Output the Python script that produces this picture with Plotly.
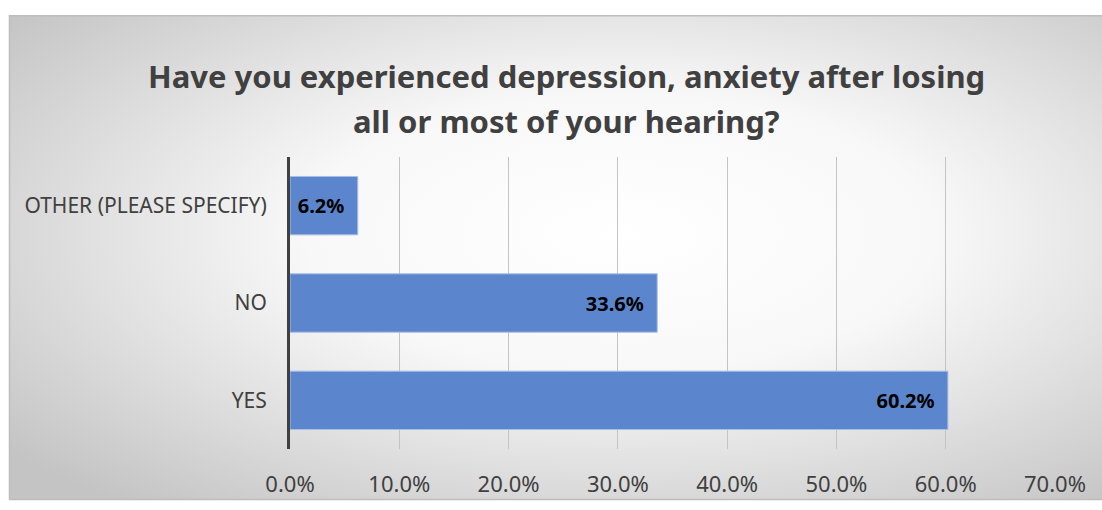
import base64
import plotly.graph_objects as go

categories = ["YES", "NO", "OTHER (PLEASE SPECIFY)"]
percents = [60.2, 33.6, 6.2]
x_ticks = [0, 10, 20, 30, 40, 50, 60, 70]

TITLE_LINES = [
    "Have you experienced depression, anxiety after losing",
    "all or most of your hearing?",
]
FONT = "Noto Sans, Open Sans, sans-serif"

W, H = 1102, 510
# plot area in page pixels
X0, X1, Y0, Y1 = 290, 1055, 157, 457

# soft radial background like the office chart style
bg_svg = (
    '<svg xmlns="http://www.w3.org/2000/svg" width="1093" height="498" '
    'viewBox="0 0 1093 498" preserveAspectRatio="none">'
    '<defs><radialGradient id="g" cx="0.56" cy="0.45" r="0.72">'
    '<stop offset="0" stop-color="#ffffff"/>'
    '<stop offset="0.4" stop-color="#f8f8f8"/>'
    '<stop offset="1" stop-color="#c4c4c4"/>'
    '</radialGradient></defs>'
    '<rect width="1093" height="498" fill="url(#g)"/></svg>'
)
bg_uri = "data:image/svg+xml;base64," + base64.b64encode(bg_svg.encode()).decode()


# page pixel -> paper coords
def px_x(p):
    return (p - X0) / (X1 - X0)


def px_y(p):
    return (Y1 - p) / (Y1 - Y0)


fig = go.Figure()
fig.add_trace(
    go.Bar(
        x=percents,
        y=categories,
        orientation="h",
        marker=dict(color="#5b86cd", line=dict(color="#a9bfe6", width=1)),
        texttemplate="%{x:.1f}%\u00a0\u00a0",
        textposition="inside",
        insidetextanchor="end",
        textfont=dict(family=FONT, size=20, color="#000000", weight="bold"),
        hoverinfo="x+y",
    )
)

title_ann = [
    dict(
        text=line,
        xref="paper",
        yref="paper",
        x=px_x(566),
        y=px_y(yc),
        xanchor="center",
        yanchor="middle",
        showarrow=False,
        font=dict(family=FONT, size=31, color="#404040", weight="bold"),
    )
    for line, yc in zip(TITLE_LINES, [74, 120])
]

fig.update_layout(
    width=W,
    height=H,
    margin=dict(l=X0, r=W - X1, t=Y0, b=H - Y1),
    paper_bgcolor="white",
    plot_bgcolor="rgba(0,0,0,0)",
    bargap=0.4,
    showlegend=False,
    font=dict(family=FONT, color="#404040"),
    annotations=title_ann,
    images=[
        dict(
            source=bg_uri,
            xref="paper",
            yref="paper",
            x=px_x(9),
            y=px_y(12),
            sizex=px_x(1102) - px_x(9),
            sizey=px_y(12) - px_y(509),
            sizing="stretch",
            xanchor="left",
            yanchor="top",
            layer="below",
        )
    ],
    shapes=[
        dict(
            type="rect",
            xref="paper",
            yref="paper",
            x0=px_x(9.5),
            x1=px_x(1105),
            y0=px_y(509),
            y1=px_y(12),
            line=dict(color="#bdbdbd", width=1.5),
            layer="below",
        )
    ],
)

fig.update_xaxes(
    range=[0, 70],
    tickvals=x_ticks,
    ticktext=[f"{v:.1f}%" for v in x_ticks],
    showgrid=True,
    gridcolor="#c4c4c4",
    gridwidth=1,
    zeroline=False,
    showline=False,
    ticks="",
    ticklabelstandoff=20,
    tickfont=dict(family=FONT, size=22, color="#404040"),
)
fig.update_yaxes(
    showgrid=False,
    zeroline=False,
    showline=True,
    linecolor="#404040",
    linewidth=3,
    ticks="",
    ticklabelstandoff=16,
    tickfont=dict(family=FONT, size=21, color="#404040"),
)

page_css = (
    "document.documentElement.style.overflow='hidden';"
    "document.body.style.margin='0';"
    "document.body.style.overflow='hidden';"
)
fig.write_html(
    "out.html",
    config=dict(displayModeBar=False),
    post_script=page_css,
)
